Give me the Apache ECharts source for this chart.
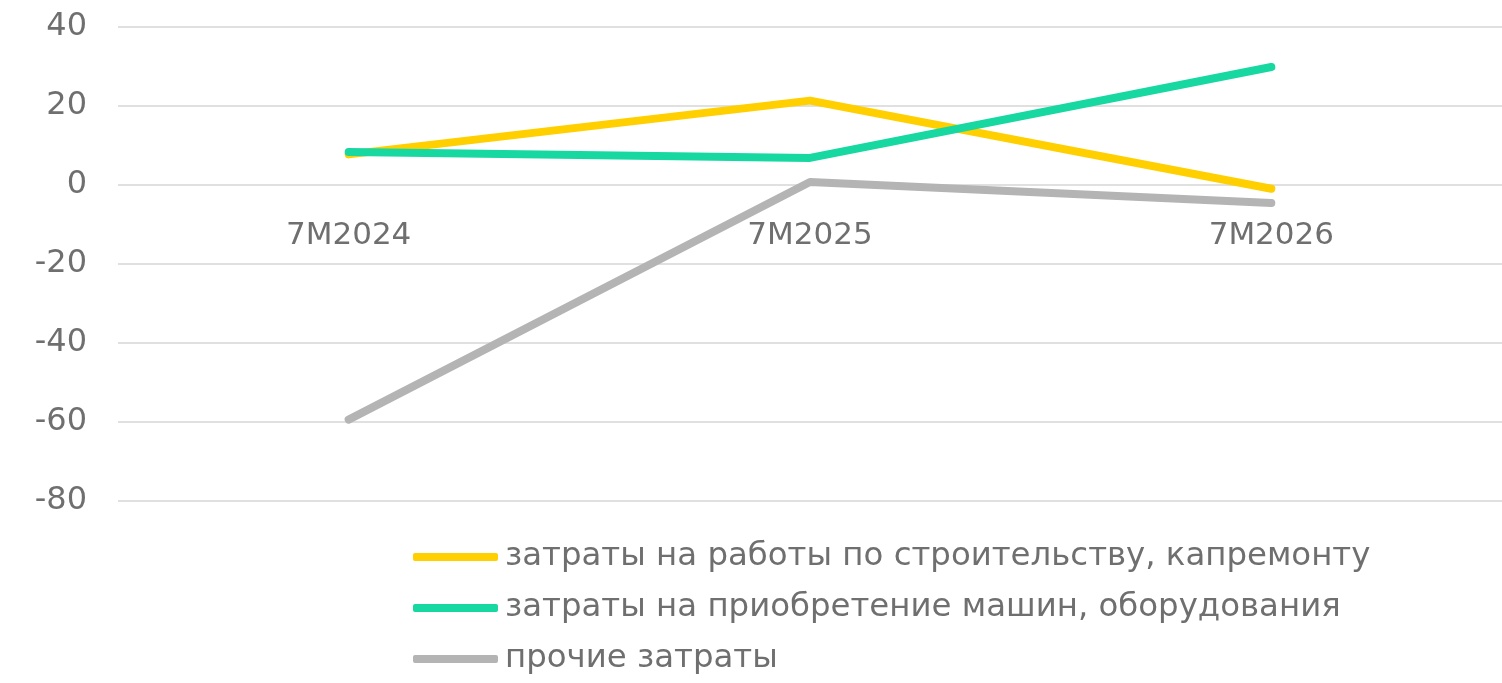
<!DOCTYPE html>
<html>
<head>
<meta charset="utf-8">
<script src="https://cdn.jsdelivr.net/npm/echarts@6/dist/echarts.min.js"></script>
<style>
html,body{margin:0;padding:0;background:#fff;}
#chart{width:1502px;height:683px;}
</style>
</head>
<body>
<div id="chart"></div>
<script>
var categories = ['7M2024', '7M2025', '7M2026'];
var seriesNames = [
  'затраты на работы по строительству, капремонту',
  'затраты на приобретение машин, оборудования',
  'прочие затраты'
];
var construction = [7.7, 21.3, -1.0];
var machinery = [8.3, 6.8, 29.8];
var other = [-59.4, 0.7, -4.6];
var yTicks = { min: -80, max: 40, interval: 20 };
var colors = ['#FFCF00', '#16D8A0', '#B4B4B4'];

var textColor = '#6F6F6F';
var font = 'DejaVu Sans';

var gridTop = 26.7, gridBottom = 182, chartH = 683;
var gridH = chartH - gridTop - gridBottom;
// move the category axis up to the zero line of the value axis
var zeroOffset = -gridH * (0 - yTicks.min) / (yTicks.max - yTicks.min);

function lineSeries(name, data, color) {
  return {
    name: name,
    type: 'line',
    data: data,
    symbol: 'none',
    showSymbol: false,
    color: color,
    lineStyle: { width: 8, color: color, cap: 'round', join: 'round' },
    itemStyle: { color: color },
    z: 3
  };
}

var chart = echarts.init(document.getElementById('chart'));
chart.setOption({
  animation: false,
  backgroundColor: '#ffffff',
  textStyle: { fontFamily: font },
  grid: { left: 118, right: 0, top: gridTop, bottom: gridBottom, containLabel: false },
  xAxis: {
    type: 'category',
    data: categories,
    boundaryGap: true,
    offset: zeroOffset,
    axisLine: { show: false, onZero: false },
    axisTick: { show: false },
    splitLine: { show: false },
    axisLabel: { color: textColor, fontSize: 31, fontFamily: font, margin: 36 }
  },
  yAxis: {
    type: 'value',
    min: yTicks.min,
    max: yTicks.max,
    interval: yTicks.interval,
    axisLine: { show: false },
    axisTick: { show: false },
    splitLine: { show: true, lineStyle: { color: '#E0E0E0', width: 2 } },
    axisLabel: { color: textColor, fontSize: 32, fontFamily: font, margin: 31 }
  },
  legend: {
    orient: 'vertical',
    left: 413,
    top: 539,
    padding: 0,
    itemWidth: 85,
    itemHeight: 8,
    itemGap: 15,
    icon: 'roundRect',
    textStyle: { color: textColor, fontSize: 32.4, fontFamily: font, lineHeight: 36, padding: [0, 0, 0, 2] },
    data: seriesNames.map(function (n, i) { return { name: n, itemStyle: { color: colors[i] } }; })
  },
  series: [
    lineSeries(seriesNames[0], construction, colors[0]),
    lineSeries(seriesNames[1], machinery, colors[1]),
    lineSeries(seriesNames[2], other, colors[2])
  ]
});
</script>
</body>
</html>
